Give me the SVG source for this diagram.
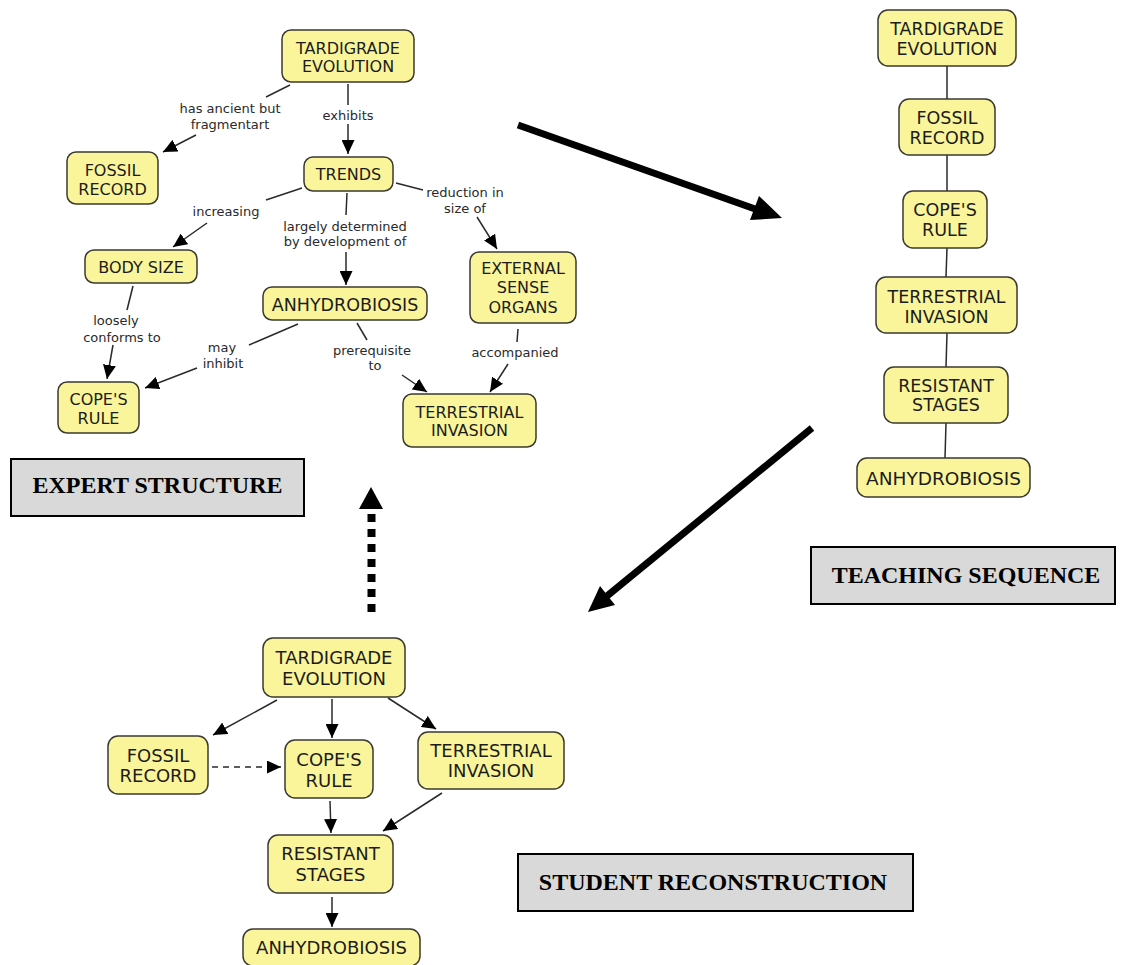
<svg xmlns="http://www.w3.org/2000/svg" width="1144" height="965" viewBox="0 0 1144 965">
  <defs>
    <style>
      .node rect { fill: #faf59a; stroke: #3a3a30; stroke-width: 1.5; }
      .node text { font-family: "DejaVu Sans", Verdana, sans-serif; fill: #1c1c1c; text-anchor: middle; }
      .ex text { font-size: 16px; }
      .ts text { font-size: 17.5px; }
      .st text { font-size: 18px; }
      .lbl { font-family: "DejaVu Sans", Verdana, sans-serif; font-size: 13px; fill: #2a2a2a; text-anchor: middle; }
      .link { stroke: #2a2a2a; stroke-width: 1.5; fill: none; }
      .arr { marker-end: url(#head); }
      .dash { stroke-dasharray: 6 5; }
      .stage rect { fill: #d9d9d9; stroke: #000; stroke-width: 2; }
      .stage text { font-family: "Liberation Serif", "Times New Roman", serif; font-weight: bold; font-size: 24px; fill: #000; text-anchor: middle; }
      .big { stroke: #000; stroke-width: 7; fill: none; }
    </style>
    <marker id="head" markerUnits="userSpaceOnUse" markerWidth="14" markerHeight="13" viewBox="0 0 14 13" refX="14" refY="6.5" orient="auto">
      <path d="M0,0 L14,6.5 L0,13 z" fill="#000"/>
    </marker>
  </defs>
  <rect width="1144" height="965" fill="#fff"/>

  <!-- connectors -->
  <g id="connectors">
    <!-- expert map -->
    <line class="link" x1="290" y1="85" x2="266" y2="97"/>
    <line class="link arr" x1="196" y1="135" x2="163" y2="152"/>
    <line class="link" x1="348" y1="84" x2="348" y2="105"/>
    <line class="link arr" x1="348" y1="124" x2="348" y2="154"/>
    <line class="link" x1="302" y1="188" x2="266" y2="200"/>
    <line class="link arr" x1="207" y1="223" x2="173" y2="247"/>
    <line class="link" x1="347" y1="193" x2="346" y2="215"/>
    <line class="link arr" x1="346" y1="252" x2="346" y2="285"/>
    <line class="link" x1="396" y1="183" x2="423" y2="190"/>
    <line class="link arr" x1="477" y1="217" x2="497" y2="249"/>
    <line class="link" x1="133" y1="286" x2="127" y2="310"/>
    <line class="link arr" x1="113" y1="345" x2="107" y2="379"/>
    <line class="link" x1="298" y1="324" x2="249" y2="345"/>
    <line class="link arr" x1="197" y1="368" x2="145" y2="388"/>
    <line class="link" x1="357" y1="323" x2="367" y2="340"/>
    <line class="link arr" x1="402" y1="375" x2="427" y2="392"/>
    <line class="link" x1="518" y1="329" x2="517" y2="342"/>
    <line class="link arr" x1="508" y1="364" x2="490" y2="392"/>

    <!-- teaching sequence -->
    <line class="link" x1="947" y1="66" x2="947" y2="99"/>
    <line class="link" x1="947" y1="155" x2="947" y2="191"/>
    <line class="link" x1="947" y1="248" x2="946" y2="277"/>
    <line class="link" x1="947" y1="333" x2="946" y2="367"/>
    <line class="link" x1="946" y1="423" x2="945" y2="458"/>

    <!-- student reconstruction -->
    <line class="link arr" x1="277" y1="700" x2="213" y2="735"/>
    <line class="link arr" x1="332" y1="699" x2="332" y2="738"/>
    <line class="link arr" x1="388" y1="698" x2="436" y2="729"/>
    <line class="link dash arr" x1="212" y1="767" x2="281" y2="767"/>
    <line class="link arr" x1="330" y1="801" x2="331" y2="833"/>
    <line class="link arr" x1="442" y1="793" x2="383" y2="831"/>
    <line class="link arr" x1="332" y1="897" x2="332" y2="927"/>

    <!-- stage arrows -->
    <line class="big" x1="518" y1="125" x2="758" y2="210"/>
    <polygon points="782,218 750,220 759,196" fill="#000"/>
    <line class="big" x1="812" y1="428" x2="607" y2="596"/>
    <polygon points="588,612 615,605 600,586" fill="#000"/>
    <line x1="371.5" y1="514" x2="371.5" y2="616" stroke="#000" stroke-width="8" stroke-dasharray="8 7"/>
    <polygon points="371,487 359,509 383,509" fill="#000"/>
  </g>

  <!-- expert map labels -->
  <g id="expert-labels">
    <text class="lbl" x="230" y="112.5">has ancient but</text>
    <text class="lbl" x="230" y="128.5">fragmentart</text>
    <text class="lbl" x="348" y="119.5">exhibits</text>
    <text class="lbl" x="226" y="215.5">increasing</text>
    <text class="lbl" x="345" y="230.5">largely determined</text>
    <text class="lbl" x="345" y="245.5">by development of</text>
    <text class="lbl" x="465" y="196.5">reduction in</text>
    <text class="lbl" x="465" y="212.5">size of</text>
    <text class="lbl" x="116" y="324.5">loosely</text>
    <text class="lbl" x="122" y="341.5">conforms to</text>
    <text class="lbl" x="222" y="351.5">may</text>
    <text class="lbl" x="223" y="367.5">inhibit</text>
    <text class="lbl" x="372" y="354.5">prerequisite</text>
    <text class="lbl" x="375" y="369.5">to</text>
    <text class="lbl" x="515" y="356.5">accompanied</text>
  </g>

  <!-- expert map nodes -->
  <g id="ex-tardigrade" class="node ex">
    <rect x="282" y="30" width="132" height="52" rx="9"/>
    <text x="348" y="53.5">TARDIGRADE</text>
    <text x="348" y="71.5">EVOLUTION</text>
  </g>
  <g id="ex-fossil" class="node ex">
    <rect x="67" y="152" width="91" height="52" rx="9"/>
    <text x="112.5" y="175.5">FOSSIL</text>
    <text x="112.5" y="194.5">RECORD</text>
  </g>
  <g id="ex-trends" class="node ex">
    <rect x="304" y="157" width="89" height="34" rx="9"/>
    <text x="348.5" y="180">TRENDS</text>
  </g>
  <g id="ex-bodysize" class="node ex">
    <rect x="85" y="250" width="112" height="33" rx="9"/>
    <text x="141" y="272.5">BODY SIZE</text>
  </g>
  <g id="ex-anhydrobiosis" class="node ex">
    <rect x="263" y="287" width="164" height="33" rx="9"/>
    <text x="345" y="310.5" style="font-size:17.5px">ANHYDROBIOSIS</text>
  </g>
  <g id="ex-external" class="node ex">
    <rect x="470" y="252" width="106" height="71" rx="9"/>
    <text x="523" y="274">EXTERNAL</text>
    <text x="523" y="293">SENSE</text>
    <text x="523" y="312.5">ORGANS</text>
  </g>
  <g id="ex-copes" class="node ex">
    <rect x="58" y="382" width="81" height="51" rx="9"/>
    <text x="98.5" y="405">COPE'S</text>
    <text x="98.5" y="424">RULE</text>
  </g>
  <g id="ex-terrestrial" class="node ex">
    <rect x="403" y="394" width="133" height="53" rx="9"/>
    <text x="469.5" y="417.5">TERRESTRIAL</text>
    <text x="469.5" y="436">INVASION</text>
  </g>

  <!-- teaching sequence nodes -->
  <g id="ts-tardigrade" class="node ts">
    <rect x="878" y="10" width="138" height="56" rx="10"/>
    <text x="947" y="34.5">TARDIGRADE</text>
    <text x="947" y="54.5">EVOLUTION</text>
  </g>
  <g id="ts-fossil" class="node ts">
    <rect x="899" y="99" width="96" height="56" rx="10"/>
    <text x="947" y="123.5">FOSSIL</text>
    <text x="947" y="143.5">RECORD</text>
  </g>
  <g id="ts-copes" class="node ts">
    <rect x="903" y="191" width="84" height="57" rx="10"/>
    <text x="945" y="215.5">COPE'S</text>
    <text x="945" y="235.5">RULE</text>
  </g>
  <g id="ts-terrestrial" class="node ts">
    <rect x="876" y="277" width="141" height="56" rx="10"/>
    <text x="946.5" y="303">TERRESTRIAL</text>
    <text x="946.5" y="322.5">INVASION</text>
  </g>
  <g id="ts-resistant" class="node ts">
    <rect x="884" y="367" width="124" height="56" rx="10"/>
    <text x="946" y="391.5">RESISTANT</text>
    <text x="946" y="411">STAGES</text>
  </g>
  <g id="ts-anhydrobiosis" class="node ts">
    <rect x="857" y="458" width="173" height="39" rx="10"/>
    <text x="943.5" y="484.5" style="font-size:18.5px">ANHYDROBIOSIS</text>
  </g>

  <!-- student reconstruction nodes -->
  <g id="st-tardigrade" class="node st">
    <rect x="263" y="638" width="142" height="59" rx="10"/>
    <text x="334" y="663.5">TARDIGRADE</text>
    <text x="334" y="685">EVOLUTION</text>
  </g>
  <g id="st-fossil" class="node st">
    <rect x="108" y="736" width="100" height="58" rx="10"/>
    <text x="158" y="761.5">FOSSIL</text>
    <text x="158" y="781.5">RECORD</text>
  </g>
  <g id="st-copes" class="node st">
    <rect x="285" y="740" width="88" height="58" rx="10"/>
    <text x="329" y="765.5">COPE'S</text>
    <text x="329" y="786.5">RULE</text>
  </g>
  <g id="st-terrestrial" class="node st">
    <rect x="418" y="732" width="146" height="57" rx="10"/>
    <text x="491" y="756.5">TERRESTRIAL</text>
    <text x="491" y="777">INVASION</text>
  </g>
  <g id="st-resistant" class="node st">
    <rect x="268" y="835" width="125" height="58" rx="10"/>
    <text x="330.5" y="860">RESISTANT</text>
    <text x="330.5" y="881">STAGES</text>
  </g>
  <g id="st-anhydrobiosis" class="node st">
    <rect x="243" y="929" width="177" height="37" rx="10"/>
    <text x="331.5" y="953.5">ANHYDROBIOSIS</text>
  </g>

  <!-- stage captions -->
  <g id="cap-expert" class="stage">
    <rect x="11" y="459" width="293" height="57"/>
    <text x="157.5" y="493">EXPERT STRUCTURE</text>
  </g>
  <g id="cap-teaching" class="stage">
    <rect x="811" y="547" width="304" height="57"/>
    <text x="966" y="583">TEACHING SEQUENCE</text>
  </g>
  <g id="cap-student" class="stage">
    <rect x="518" y="854" width="395" height="57"/>
    <text x="713" y="890">STUDENT RECONSTRUCTION</text>
  </g>
</svg>
